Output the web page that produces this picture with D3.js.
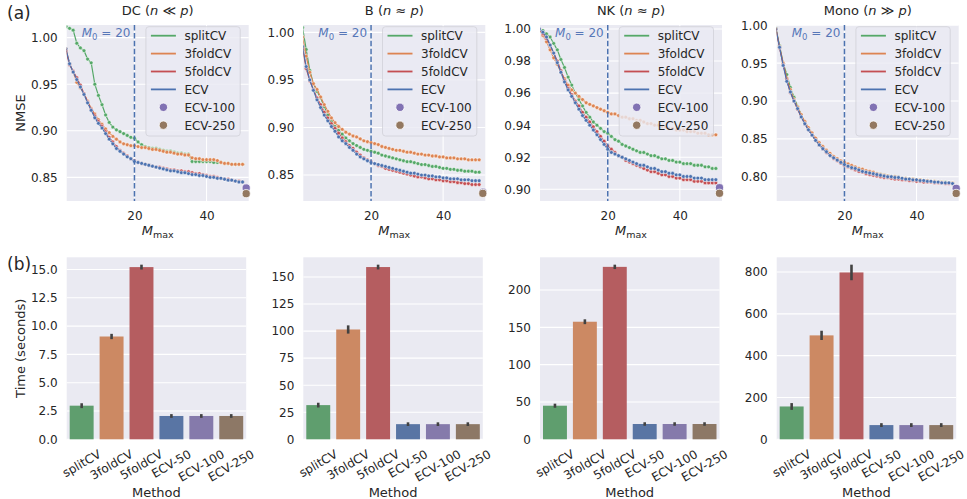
<!DOCTYPE html>
<html>
<head>
<meta charset="utf-8">
<script src="https://cdn.jsdelivr.net/npm/d3@7"></script>
<style>
body { margin: 0; background: #fff; }
svg text { font-family: "DejaVu Sans", sans-serif; fill: #262626; }
</style>
</head>
<body>
<svg id="fig" width="967" height="499"></svg>
<script>
// ---- data ----
const panelNames = ["DC", "B", "NK", "Mono"];
const panelRel = ["\u226a", "\u2248", "\u2248", "\u226b"];
const lineMethods = ["splitCV", "3foldCV", "5foldCV", "ECV"];
const mMax = [1,2,3,4,5,6,7,8,9,10,11,12,13,14,15,16,17,18,19,20,21,22,23,24,25,
  26,27,28,29,30,31,32,33,34,35,36,37,38,39,40,41,42,43,44,45,46,47,48,49,50];

const dcSplitCV = [1.012,1.010,1.008,0.994,0.989,0.986,0.977,0.973,0.950,0.938,
  0.928,0.917,0.909,0.904,0.901,0.899,0.897,0.895,0.893,0.892,
  0.888,0.885,0.883,0.882,0.881,0.881,0.880,0.879,0.878,0.878,
  0.877,0.876,0.876,0.875,0.875,0.867,0.867,0.867,0.867,0.867,
  0.867,0.866,0.866,0.866,0.865,0.865,0.864,0.864,0.864,0.864];
const dc3foldCV = [0.988,0.972,0.963,0.952,0.946,0.940,0.932,0.924,0.918,0.912,
  0.907,0.902,0.898,0.894,0.891,0.888,0.886,0.885,0.884,0.884,
  0.883,0.882,0.882,0.881,0.880,0.880,0.879,0.878,0.877,0.877,
  0.876,0.875,0.875,0.874,0.874,0.871,0.870,0.870,0.869,0.869,
  0.869,0.869,0.868,0.866,0.865,0.865,0.864,0.864,0.864,0.864];
const dc5foldCV = [0.986,0.971,0.964,0.957,0.949,0.940,0.931,0.923,0.916,0.910,
  0.905,0.899,0.893,0.888,0.883,0.879,0.876,0.873,0.870,0.868,
  0.866,0.865,0.864,0.863,0.862,0.861,0.861,0.860,0.859,0.858,
  0.858,0.857,0.857,0.856,0.856,0.855,0.854,0.854,0.853,0.852,
  0.851,0.851,0.850,0.849,0.848,0.848,0.847,0.846,0.846,0.845];
const dcECV = [0.988,0.972,0.963,0.955,0.947,0.939,0.930,0.922,0.914,0.908,
  0.903,0.897,0.891,0.886,0.881,0.878,0.875,0.872,0.870,0.867,
  0.866,0.865,0.864,0.863,0.862,0.861,0.860,0.859,0.858,0.857,
  0.857,0.856,0.855,0.855,0.854,0.853,0.853,0.852,0.852,0.851,
  0.850,0.850,0.849,0.849,0.848,0.847,0.847,0.846,0.845,0.845];

const bSplitCV = [1.005,0.982,0.960,0.946,0.938,0.931,0.922,0.913,0.906,0.901,
  0.897,0.893,0.889,0.886,0.883,0.881,0.879,0.877,0.876,0.875,
  0.874,0.873,0.871,0.870,0.869,0.868,0.867,0.866,0.865,0.864,
  0.864,0.863,0.862,0.861,0.861,0.860,0.859,0.859,0.858,0.857,
  0.857,0.856,0.856,0.855,0.855,0.854,0.854,0.854,0.853,0.853];
const b3foldCV = [0.995,0.975,0.958,0.946,0.940,0.932,0.924,0.917,0.910,0.905,
  0.901,0.898,0.895,0.893,0.891,0.890,0.888,0.886,0.885,0.884,
  0.883,0.882,0.880,0.879,0.878,0.877,0.876,0.876,0.875,0.874,
  0.874,0.873,0.872,0.872,0.871,0.871,0.870,0.870,0.869,0.869,
  0.868,0.868,0.868,0.867,0.867,0.867,0.866,0.866,0.866,0.866];
const b5foldCV = [0.983,0.962,0.949,0.940,0.931,0.924,0.916,0.910,0.904,0.899,
  0.894,0.889,0.885,0.881,0.878,0.874,0.871,0.868,0.866,0.864,
  0.862,0.860,0.859,0.857,0.856,0.855,0.854,0.853,0.852,0.851,
  0.850,0.849,0.848,0.848,0.847,0.846,0.846,0.845,0.845,0.844,
  0.844,0.843,0.843,0.842,0.842,0.841,0.841,0.840,0.840,0.840];
const bECV = [0.985,0.964,0.950,0.939,0.929,0.921,0.913,0.907,0.901,0.896,
  0.890,0.886,0.883,0.879,0.876,0.872,0.869,0.867,0.865,0.863,
  0.862,0.861,0.860,0.859,0.858,0.857,0.856,0.855,0.854,0.853,
  0.852,0.852,0.851,0.850,0.850,0.849,0.849,0.848,0.848,0.847,
  0.847,0.846,0.846,0.846,0.845,0.845,0.845,0.844,0.844,0.844];

const nkSplitCV = [1.000,0.999,0.997,0.995,0.991,0.987,0.981,0.976,0.970,0.965,
  0.960,0.956,0.952,0.948,0.945,0.942,0.940,0.938,0.936,0.935,
  0.933,0.931,0.930,0.928,0.927,0.926,0.925,0.924,0.923,0.923,
  0.922,0.921,0.921,0.920,0.919,0.919,0.918,0.918,0.917,0.917,
  0.916,0.916,0.916,0.915,0.915,0.915,0.914,0.914,0.913,0.913];
const nk3foldCV = [1.000,0.996,0.992,0.987,0.982,0.978,0.973,0.969,0.965,0.962,
  0.960,0.958,0.956,0.954,0.953,0.952,0.951,0.950,0.949,0.948,
  0.947,0.947,0.946,0.945,0.945,0.944,0.944,0.943,0.943,0.942,
  0.941,0.941,0.940,0.940,0.939,0.939,0.938,0.938,0.937,0.937,
  0.937,0.936,0.936,0.936,0.935,0.935,0.935,0.934,0.934,0.934];
const nk5foldCV = [1.000,0.997,0.994,0.990,0.985,0.980,0.974,0.968,0.963,0.959,
  0.955,0.952,0.948,0.945,0.942,0.939,0.936,0.933,0.930,0.927,
  0.925,0.923,0.921,0.920,0.918,0.917,0.916,0.915,0.914,0.913,
  0.912,0.911,0.911,0.910,0.909,0.909,0.908,0.908,0.907,0.907,
  0.906,0.906,0.906,0.905,0.905,0.905,0.904,0.904,0.904,0.904];
const nkECV = [1.000,0.998,0.995,0.990,0.985,0.979,0.973,0.967,0.962,0.958,
  0.954,0.950,0.946,0.943,0.940,0.937,0.934,0.931,0.928,0.925,
  0.923,0.922,0.921,0.920,0.919,0.918,0.917,0.916,0.915,0.915,
  0.914,0.913,0.913,0.912,0.911,0.911,0.910,0.910,0.909,0.909,
  0.908,0.908,0.908,0.907,0.907,0.907,0.906,0.906,0.906,0.906];

const monoSplitCV = [0.996,0.973,0.950,0.935,0.918,0.905,0.893,0.882,0.872,0.864,
  0.857,0.850,0.844,0.838,0.834,0.830,0.826,0.823,0.820,0.817,
  0.815,0.813,0.811,0.810,0.808,0.807,0.806,0.805,0.804,0.803,
  0.802,0.801,0.800,0.800,0.799,0.798,0.798,0.797,0.797,0.796,
  0.796,0.795,0.795,0.794,0.794,0.793,0.793,0.793,0.792,0.792];
const mono3foldCV = [0.995,0.972,0.950,0.930,0.915,0.902,0.892,0.882,0.873,0.865,
  0.858,0.851,0.845,0.840,0.835,0.831,0.827,0.824,0.821,0.819,
  0.817,0.815,0.813,0.811,0.810,0.808,0.807,0.806,0.804,0.803,
  0.802,0.801,0.800,0.800,0.799,0.798,0.798,0.797,0.797,0.796,
  0.796,0.795,0.795,0.794,0.794,0.793,0.793,0.792,0.792,0.792];
const mono5foldCV = [0.995,0.970,0.948,0.928,0.911,0.900,0.889,0.879,0.870,0.862,
  0.855,0.848,0.842,0.837,0.832,0.828,0.824,0.821,0.818,0.815,
  0.813,0.811,0.809,0.807,0.806,0.804,0.803,0.802,0.801,0.800,
  0.799,0.799,0.798,0.797,0.797,0.796,0.796,0.795,0.795,0.794,
  0.794,0.793,0.793,0.793,0.792,0.792,0.792,0.791,0.791,0.791];
const monoECV = [0.995,0.971,0.947,0.926,0.912,0.900,0.890,0.879,0.870,0.862,
  0.855,0.848,0.842,0.837,0.833,0.828,0.825,0.822,0.819,0.816,
  0.814,0.812,0.811,0.809,0.807,0.806,0.805,0.804,0.803,0.802,
  0.801,0.800,0.800,0.799,0.799,0.798,0.797,0.797,0.796,0.796,
  0.795,0.795,0.794,0.794,0.793,0.793,0.792,0.792,0.792,0.791];

// single-point results drawn at the right edge
const ecv100NMSE = [0.8386, 0.8320, 0.9010, 0.7847];
const ecv250NMSE = [0.8325, 0.8307, 0.8975, 0.7780];

const nmseTicks = [[0.85,0.90,0.95,1.00],[0.85,0.90,0.95,1.00],
  [0.90,0.92,0.94,0.96,0.98,1.00],[0.80,0.85,0.90,0.95,1.00]];
const mTicks = [20, 40];

// timing bars
const barMethods = ["splitCV", "3foldCV", "5foldCV", "ECV-50", "ECV-100", "ECV-250"];
const timeDC = [2.97, 9.08, 15.21, 2.06, 2.06, 2.06];
const timeB = [31.6, 101.5, 159.2, 14.0, 14.0, 14.0];
const timeNK = [45.0, 157.5, 231.0, 20.5, 20.5, 20.5];
const timeMono = [157, 497, 798, 68, 68, 68];
const errDC = [0.10, 0.12, 0.10, 0.05, 0.05, 0.05];
const errB = [1.0, 2.6, 1.0, 0.5, 0.5, 0.5];
const errNK = [1.0, 1.5, 1.2, 0.6, 0.6, 0.6];
const errMono = [10, 16, 31, 3, 3, 3];
const timeTicks = [[0,2.5,5,7.5,10,12.5,15],[0,25,50,75,100,125,150],
  [0,50,100,150,200],[0,200,400,600,800]];

// ---- layout / style ----
const nmseSeries = [
  [dcSplitCV, dc3foldCV, dc5foldCV, dcECV],
  [bSplitCV, b3foldCV, b5foldCV, bECV],
  [nkSplitCV, nk3foldCV, nk5foldCV, nkECV],
  [monoSplitCV, mono3foldCV, mono5foldCV, monoECV]
];
const nmseLimits = [[0.8246,1.0136],[0.8227,1.0077],[0.8927,1.0025],[0.768,1.0004]];
const timeSeries = [timeDC, timeB, timeNK, timeMono];
const errSeries = [errDC, errB, errNK, errMono];

const lineColors = ["#55a868", "#dd8452", "#c44e52", "#4c72b0"];
const ptColors = ["#8172b3", "#937860"];
const barColors = ["#5f9e6e", "#cc8963", "#b55d60", "#5975a4", "#857aab", "#8d7866"];

const lefts = [66.7, 303.3, 540, 776.7];
const topY0 = 25, topY1 = 201, topW = 182;
const botY0 = 257.3, botY1 = 439.3, botW = 179.5;

const svg = d3.select("#fig");

function styleAxis(g) {
  g.select(".domain").remove();
  g.attr("font-family", "DejaVu Sans").attr("font-size", 12);
  g.selectAll("text").attr("fill", "#262626");
}

panelNames.forEach((name, i) => {
  const x0 = lefts[i];

  // ---------- top: NMSE vs M_max ----------
  const gt = svg.append("g");
  const x = d3.scaleLinear().domain([1.2, 51.7]).range([x0, x0 + topW]);
  const y = d3.scaleLinear().domain(nmseLimits[i]).range([topY1, topY0]);

  gt.append("rect").attr("x", x0).attr("y", topY0).attr("width", topW)
    .attr("height", topY1 - topY0).attr("fill", "#eaeaf2");
  gt.selectAll(".gy").data(nmseTicks[i]).enter().append("line")
    .attr("x1", x0).attr("x2", x0 + topW)
    .attr("y1", d => y(d)).attr("y2", d => y(d))
    .attr("stroke", "#fff").attr("stroke-width", 1.1);
  gt.selectAll(".gx").data(mTicks).enter().append("line")
    .attr("x1", d => x(d)).attr("x2", d => x(d))
    .attr("y1", topY0).attr("y2", topY1)
    .attr("stroke", "#fff").attr("stroke-width", 1.1);

  const clipId = "clip" + i;
  svg.append("clipPath").attr("id", clipId).append("rect")
    .attr("x", x0).attr("y", topY0).attr("width", topW).attr("height", topY1 - topY0);
  const plot = gt.append("g").attr("clip-path", "url(#" + clipId + ")");

  const line = d3.line().x((d, k) => x(mMax[k])).y(d => y(d));
  nmseSeries[i].forEach((vals, s) => {
    plot.append("path").datum(vals).attr("d", line)
      .attr("fill", "none").attr("stroke", lineColors[s]).attr("stroke-width", 1.2);
    plot.selectAll(null).data(vals).enter().append("circle")
      .attr("cx", (d, k) => x(mMax[k])).attr("cy", d => y(d)).attr("r", 1.9)
      .attr("fill", lineColors[s]).attr("stroke", "#fff").attr("stroke-width", 0.5);
  });

  // M0 = 20 marker line
  gt.append("line").attr("x1", x(20)).attr("x2", x(20))
    .attr("y1", topY0).attr("y2", topY1)
    .attr("stroke", "#4c72b0").attr("stroke-width", 1.5)
    .attr("stroke-dasharray", "5.5,2.4");
  const m0 = gt.append("text").attr("x", x(20) - 4).attr("y", topY0 + 12.3)
    .attr("text-anchor", "end").attr("font-size", 12).style("fill", "#5777b8");
  m0.append("tspan").attr("font-style", "italic").text("M");
  m0.append("tspan").attr("font-size", 8.5).attr("dy", 3).text("0");
  m0.append("tspan").attr("dy", -3).text(" = 20");

  // ECV-100 / ECV-250 points
  [ecv100NMSE, ecv250NMSE].forEach((vals, s) => {
    gt.append("circle").attr("cx", x(51)).attr("cy", y(vals[i])).attr("r", 4.1)
      .attr("fill", ptColors[s]).attr("stroke", "#fff").attr("stroke-width", 0.8);
  });

  // axes
  gt.append("g").attr("transform", "translate(" + x0 + ",0)")
    .call(d3.axisLeft(y).tickValues(nmseTicks[i]).tickFormat(d3.format(".2f"))
      .tickSize(0).tickPadding(9))
    .call(styleAxis);
  gt.append("g").attr("transform", "translate(0," + topY1 + ")")
    .call(d3.axisBottom(x).tickValues(mTicks).tickSize(0).tickPadding(10))
    .call(styleAxis);

  // title
  const t = gt.append("text").attr("x", x0 + topW / 2).attr("y", 15)
    .attr("text-anchor", "middle").attr("font-size", 13);
  t.append("tspan").text(name + " (");
  t.append("tspan").attr("font-style", "italic").text("n");
  t.append("tspan").text(" " + panelRel[i] + " ");
  t.append("tspan").attr("font-style", "italic").text("p");
  t.append("tspan").text(")");

  // x label
  const xl = gt.append("text").attr("x", x0 + topW / 2).attr("y", 235)
    .attr("text-anchor", "middle").attr("font-size", 13);
  xl.append("tspan").attr("font-style", "italic").text("M");
  xl.append("tspan").attr("font-size", 9.5).attr("dy", 3).text("max");

  // legend
  const lw = 94.3, lh = 109.3;
  const lx = x0 + topW - 8.5 - lw, ly = topY0 + 1.7;
  const lg = gt.append("g");
  lg.append("rect").attr("x", lx).attr("y", ly).attr("width", lw).attr("height", lh)
    .attr("rx", 3).attr("fill", "#eaeaf2").attr("fill-opacity", 0.8)
    .attr("stroke", "#d0d0d8").attr("stroke-width", 0.8);
  const legItems = lineMethods.concat(["ECV-100", "ECV-250"]);
  legItems.forEach((lab, k) => {
    const cy = ly + 9 + k * 17.9;
    if (k < 4) {
      lg.append("line").attr("x1", lx + 5).attr("x2", lx + 30)
        .attr("y1", cy).attr("y2", cy)
        .attr("stroke", lineColors[k]).attr("stroke-width", 1.8);
    } else {
      lg.append("circle").attr("cx", lx + 17.5).attr("cy", cy).attr("r", 4.2)
        .attr("fill", ptColors[k - 4]).attr("stroke", "#fff").attr("stroke-width", 0.8);
    }
    lg.append("text").attr("x", lx + 38.5).attr("y", cy).attr("dy", "0.36em")
      .attr("font-size", 12).text(lab);
  });

  // ---------- bottom: run time bars ----------
  const gb = svg.append("g");
  const xb = d3.scaleBand().domain(barMethods).range([x0, x0 + botW])
    .paddingInner(0.2).paddingOuter(0.1);
  const vals = timeSeries[i], errs = errSeries[i];
  const yMax = d3.max(vals, (d, k) => d + errs[k]) * 1.05;
  const yb = d3.scaleLinear().domain([0, yMax]).range([botY1, botY0]);

  gb.append("rect").attr("x", x0).attr("y", botY0).attr("width", botW)
    .attr("height", botY1 - botY0).attr("fill", "#eaeaf2");
  gb.selectAll(".gy").data(timeTicks[i]).enter().append("line")
    .attr("x1", x0).attr("x2", x0 + botW)
    .attr("y1", d => yb(d)).attr("y2", d => yb(d))
    .attr("stroke", "#fff").attr("stroke-width", 1.1);

  gb.selectAll(".bar").data(barMethods).enter().append("rect")
    .attr("x", d => xb(d)).attr("width", xb.bandwidth())
    .attr("y", (d, k) => yb(vals[k])).attr("height", (d, k) => botY1 - yb(vals[k]))
    .attr("fill", (d, k) => barColors[k]);
  gb.selectAll(".err").data(barMethods).enter().append("line")
    .attr("x1", d => xb(d) + xb.bandwidth() / 2).attr("x2", d => xb(d) + xb.bandwidth() / 2)
    .attr("y1", (d, k) => yb(vals[k] - errs[k])).attr("y2", (d, k) => yb(vals[k] + errs[k]))
    .attr("stroke", "#424242").attr("stroke-width", 2.6).attr("stroke-linecap", "square");

  const fmt = i === 0 ? d3.format(".1f") : d3.format("d");
  gb.append("g").attr("transform", "translate(" + x0 + ",0)")
    .call(d3.axisLeft(yb).tickValues(timeTicks[i]).tickFormat(fmt).tickSize(0).tickPadding(9))
    .call(styleAxis);

  barMethods.forEach(m => {
    const cx = xb(m) + xb.bandwidth() / 2;
    const lab = gb.append("text").attr("font-size", 12)
      .attr("text-anchor", "middle").attr("dominant-baseline", "central").text(m);
    const L = lab.node().getComputedTextLength();
    const halfH = (L * 0.5 + 12 * 0.75 * 0.866) / 2;
    lab.attr("transform", "translate(" + cx + "," + (botY1 + 10 + halfH) + ") rotate(-30)");
  });

  gb.append("text").attr("x", x0 + botW / 2).attr("y", 496.5)
    .attr("text-anchor", "middle").attr("font-size", 13).text("Method");
});

// y labels and panel tags
svg.append("text").attr("transform", "translate(25," + ((topY0 + topY1) / 2) + ") rotate(-90)")
  .attr("text-anchor", "middle").attr("font-size", 13).text("NMSE");
svg.append("text").attr("transform", "translate(24.5," + ((botY0 + botY1) / 2) + ") rotate(-90)")
  .attr("text-anchor", "middle").attr("font-size", 13).text("Time (seconds)");
svg.append("text").attr("x", 7).attr("y", 19).attr("font-size", 17).text("(a)");
svg.append("text").attr("x", 7).attr("y", 270).attr("font-size", 17).text("(b)");
</script>
</body>
</html>
